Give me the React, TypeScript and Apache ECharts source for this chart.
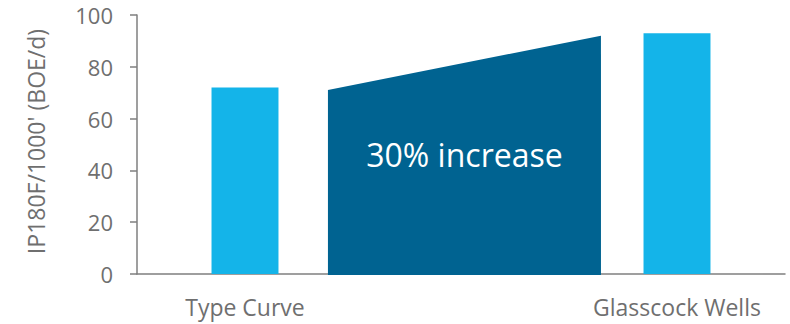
import React, { useEffect, useRef } from "react";
import * as echarts from "echarts";

const categories = ["Type Curve", "", "Glasscock Wells"];
const barValues: (number | null)[] = [72, null, 93];
// [category index, left top value, right top value]
const increaseShape = [[1, 71, 92]];
const increaseLabel = "30% increase";
const increaseLabelValue = 46;
const yTicks = { min: 0, max: 100, interval: 20 };
const yAxisName = "IP180F/1000' (BOE/d)";

const FONT = "'Open Sans', 'Noto Sans', sans-serif";

export default function App() {
  const ref = useRef<HTMLDivElement>(null);
  useEffect(() => {
    if (!ref.current) return;
    const chart = echarts.init(ref.current, undefined, { renderer: "svg" });
    chart.setOption({
      animation: false,
      grid: { left: 137, right: 5, top: 15, bottom: 50 },
      xAxis: {
        type: "category",
        data: categories,
        axisTick: { show: false },
        axisLine: { lineStyle: { color: "#7f7f7f", width: 1.5 } },
        axisLabel: { color: "#6f6f6f", fontSize: 23, fontFamily: FONT, margin: 21 },
      },
      yAxis: {
        type: "value",
        min: yTicks.min,
        max: yTicks.max,
        interval: yTicks.interval,
        name: yAxisName,
        nameLocation: "middle",
        nameGap: 90,
        nameTextStyle: { color: "#6f6f6f", fontSize: 23, fontFamily: FONT, padding: [0, 0, 0, 6] },
        splitLine: { show: false },
        axisLine: { show: true, lineStyle: { color: "#7f7f7f", width: 1.5 } },
        axisTick: { show: true, length: 7, lineStyle: { color: "#7f7f7f", width: 1.5 } },
        axisLabel: { color: "#6f6f6f", fontSize: 22, fontFamily: FONT, margin: 24 },
      },
      series: [
        {
          type: "bar",
          data: barValues,
          barWidth: "31%",
          itemStyle: { color: "#14B4E9" },
          z: 3,
        },
        {
          type: "custom",
          data: increaseShape,
          z: 4,
          renderItem: (params: any, api: any) => {
            const c = api.value(0);
            const yl = api.value(1);
            const yr = api.value(2);
            const center = api.coord([c, 0]);
            const band = api.size([1, 0])[0];
            const x0 = center[0] - band * 0.616;
            const x1 = center[0] + band * 0.648;
            const base = center[1];
            const pL = api.coord([c, yl])[1];
            const pR = api.coord([c, yr])[1];
            const ty = api.coord([c, increaseLabelValue])[1];
            return {
              type: "group",
              children: [
                {
                  type: "polygon",
                  shape: { points: [[x0, base + 1], [x0, pL], [x1, pR], [x1, base + 1]] },
                  style: { fill: "#006391" },
                },
                {
                  type: "text",
                  x: (x0 + x1) / 2,
                  y: ty,
                  style: {
                    text: increaseLabel,
                    fill: "#ffffff",
                    font: `32px ${FONT}`,
                    align: "center",
                    verticalAlign: "middle",
                  },
                },
              ],
            };
          },
        },
      ],
    });
    return () => chart.dispose();
  }, []);
  return <div ref={ref} style={{ width: 790, height: 324, position: "absolute", left: 0, top: 0 }} />;
}
